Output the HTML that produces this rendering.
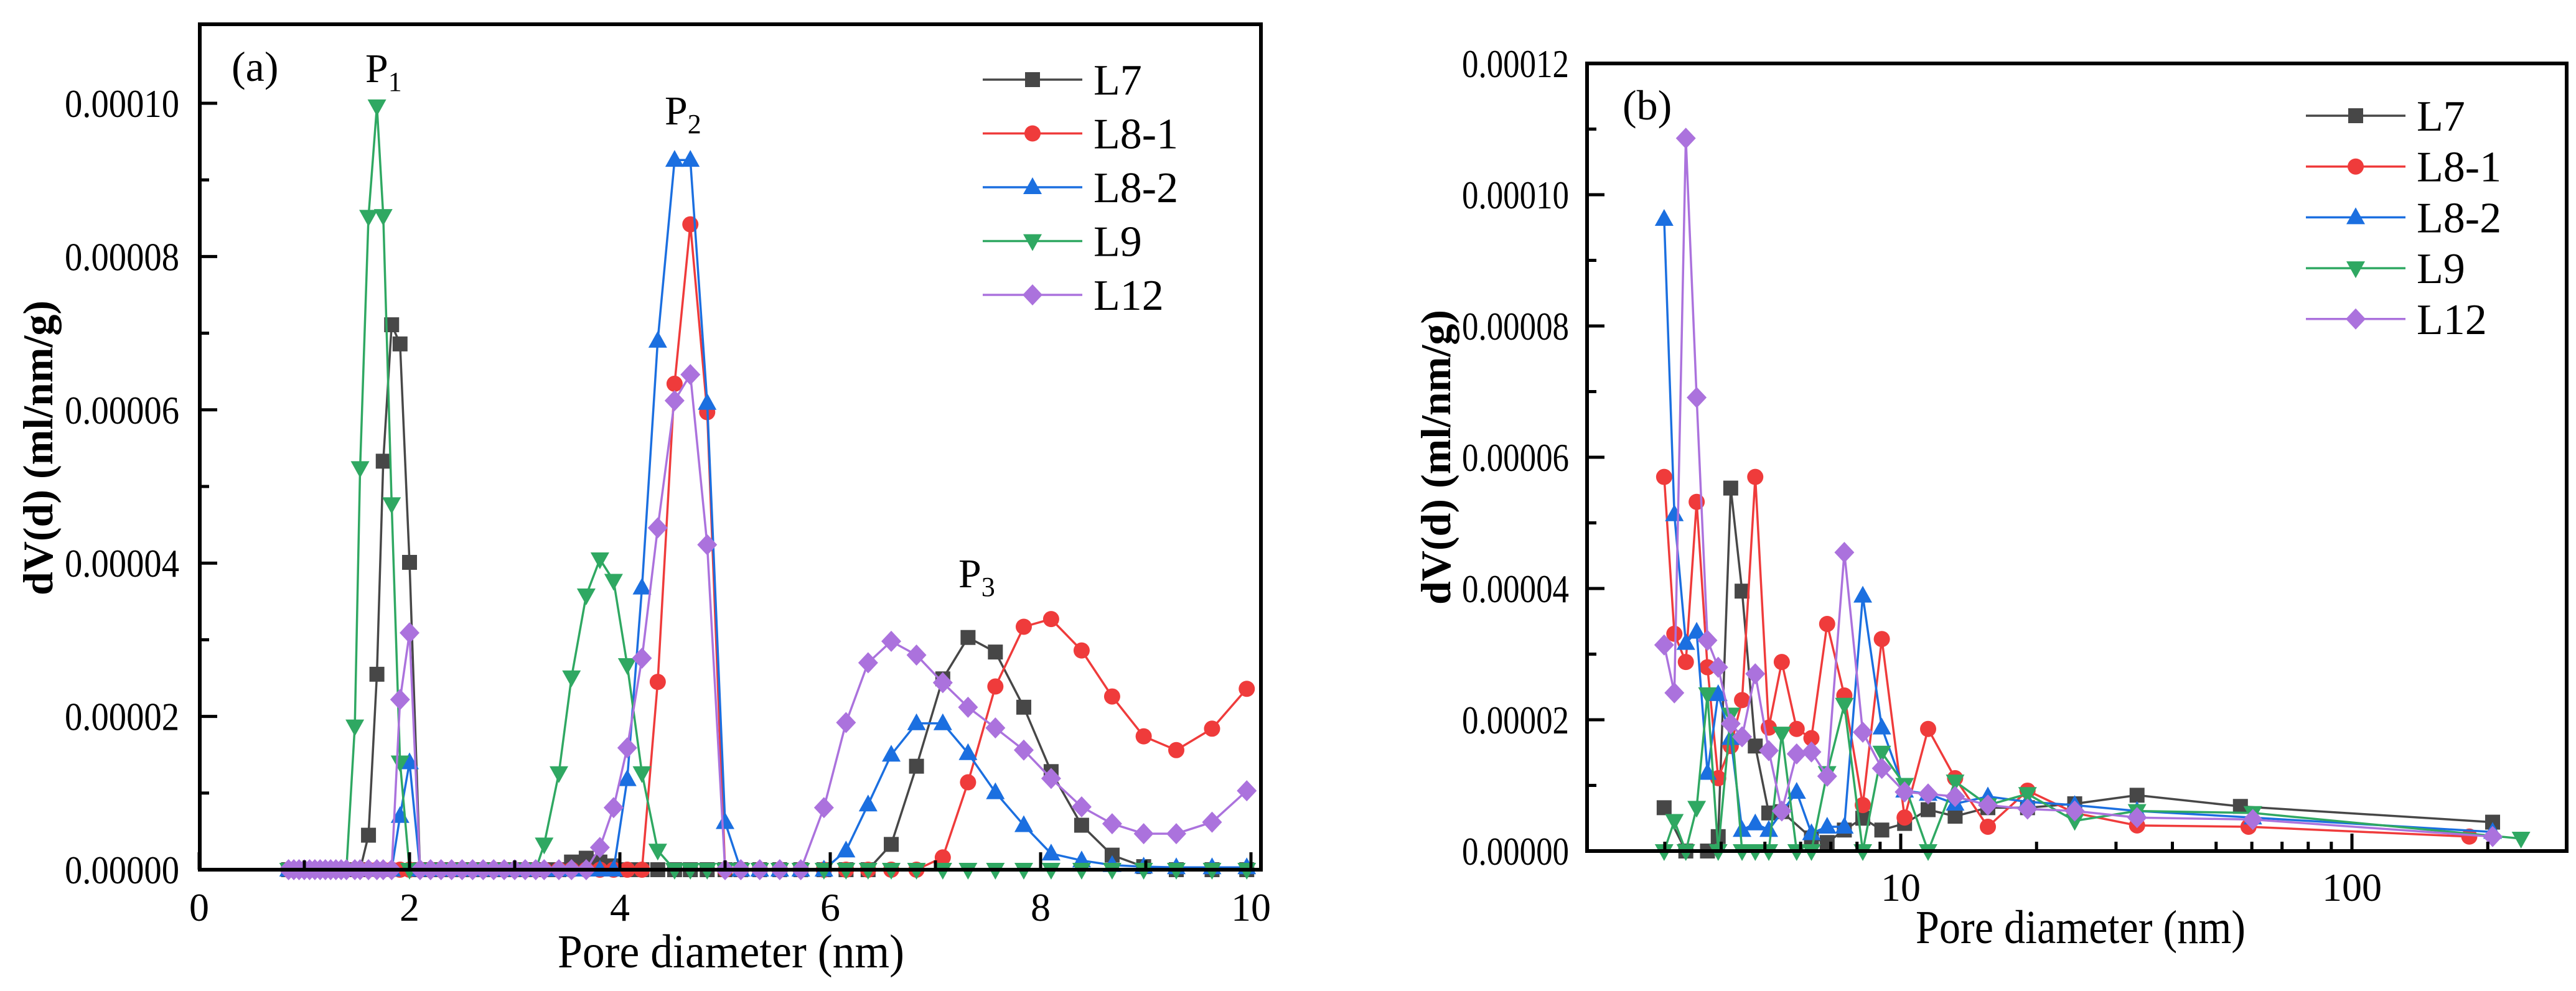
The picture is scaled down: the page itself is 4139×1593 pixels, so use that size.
<!DOCTYPE html>
<html><head><meta charset="utf-8">
<style>
html,body{margin:0;padding:0;background:#fff;}
svg{display:block;}
text{font-family:"Liberation Serif",serif;}
</style></head>
<body>
<svg id="chart" width="4139" height="1593" viewBox="0 0 4139 1593" xmlns="http://www.w3.org/2000/svg" font-family="Liberation Serif, serif">
<rect x="0" y="0" width="4139" height="1593" fill="#fff"/>
<g id="pa"></g>
<g id="pb"></g>
</svg>
<script>
// ---------- Panel (a) data (values in 1e-5 ml/nm/g) ----------
const gridA = [0.85,0.9,0.95,1.0,1.05,1.1,1.15,1.2,1.25,1.3,1.35,1.4,1.48,1.53,1.61,1.69,1.75,1.83,1.91,2.0,2.1,2.2,2.3,2.4,2.5,2.6,2.7,2.8,2.9,3.0,3.1,3.2,3.28,3.42,3.54,3.68,3.81,3.94,4.07,4.21,4.36,4.52,4.67,4.83,5.0,5.15,5.33,5.52,5.72,5.94,6.15,6.36,6.58,6.82,7.07,7.31,7.57,7.84,8.1,8.39,8.68,8.98,9.29,9.63,9.96];
const aL7  = [0,0,0,0,0,0,0,0,0,0,0,0,0,0,0.45,2.55,5.33,7.11,6.86,4.01,0,0,0,0,0,0,0,0,0,0,0,0,0,0,0.1,0.15,0.1,0.05,0,0,0,0,0,0,0,0,0,0,0,0,0,0,0.33,1.35,2.49,3.03,2.84,2.12,1.28,0.58,0.19,0.04,0,0,0];
const aL81 = [0,0,0,0,0,0,0,0,0,0,0,0,0,0,0,0,0,0,0,0,0,0,0,0,0,0,0,0,0,0,0,0,0,0,0,0,0,0,0,0,2.45,6.34,8.42,5.97,0,0,0,0,0,0,0,0,0,0,0.16,1.14,2.39,3.17,3.27,2.86,2.26,1.74,1.56,1.84,2.36];
const aL82 = [0,0,0,0,0,0,0,0,0,0,0,0,0,0,0,0,0,0,0.7,1.4,0,0,0,0,0,0,0,0,0,0,0,0,0,0,0,0,0,0,1.18,3.68,6.9,9.26,9.26,6.09,0.62,0,0,0,0,0,0.25,0.85,1.5,1.91,1.91,1.52,1.01,0.58,0.21,0.12,0.06,0.04,0.03,0.03,0.03];
const aL9  = [0,0,0,0,0,0,0,0,0,0,0,0,1.87,5.24,8.52,9.96,8.53,4.77,1.4,0,0,0,0,0,0,0,0,0,0,0,0,0,0.33,1.26,2.51,3.58,4.05,3.77,2.67,1.26,0.25,0,0,0,0,0,0,0,0,0,0,0,0,0,0,0,0,0,0,0,0,0,0,0,0];
const aL12 = [0,0,0,0,0,0,0,0,0,0,0,0,0,0,0,0,0,0,2.22,3.09,0,0,0,0,0,0,0,0,0,0,0,0,0,0,0,0,0.29,0.81,1.59,2.76,4.46,6.12,6.46,4.24,0,0,0,0,0,0.81,1.92,2.7,2.98,2.8,2.44,2.12,1.85,1.56,1.19,0.82,0.6,0.47,0.47,0.62,1.03];
const aXTicks = [0,2,4,6,8,10];
const aYTicks = [0,2,4,6,8,10];
const aYLabels = ["0.00000","0.00002","0.00004","0.00006","0.00008","0.00010"];

// ---------- Panel (b) data ----------
const bL7x  = [2.99,3.34,3.73,3.94,4.2,4.45,4.76,5.1,5.45,6.34,6.87,7.5,8.24,9.08,10.2,11.5,13.2,15.6,19.1,24.3,33.4,56.6,205];
const bL7y  = [0.66,0,0,0.22,5.53,3.96,1.6,0.58,0.6,0.2,0.13,0.32,0.5,0.32,0.42,0.63,0.53,0.66,0.66,0.72,0.85,0.68,0.44];
const bL81x = [2.99,3.15,3.34,3.53,3.73,3.94,4.2,4.45,4.76,5.1,5.45,5.88,6.34,6.87,7.5,8.24,9.08,10.2,11.5,13.2,15.6,19.1,24.3,33.4,59,182];
const bL81y = [5.7,3.31,2.88,5.32,2.8,1.11,1.6,2.3,5.7,1.88,2.88,1.86,1.72,3.46,2.37,0.7,3.23,0.51,1.86,1.11,0.37,0.92,0.58,0.39,0.37,0.22];
const bL82x = [2.99,3.15,3.34,3.53,3.73,3.94,4.2,4.45,4.76,5.1,5.88,6.34,6.87,7.5,8.24,9.08,10.2,11.5,13.2,15.6,19.1,24.3,33.4,60.3,205];
const bL82y = [9.63,5.13,3.17,3.34,1.19,2.39,1.72,0.32,0.42,0.32,0.9,0.27,0.37,0.37,3.89,1.88,0.92,0.87,0.72,0.83,0.75,0.7,0.61,0.51,0.29];
const bL9x  = [2.99,3.15,3.34,3.53,3.73,3.94,4.2,4.45,4.76,5.1,5.45,5.88,6.34,6.87,7.5,8.24,9.08,10.2,11.5,13.2,15.6,19.1,24.3,33.4,60.3,237];
const bL9y  = [0,0.46,0,0.66,2.39,0,2.08,0,0,0,1.79,0,0,1.19,2.23,0,1.5,1.01,0,1.06,0.7,0.87,0.46,0.61,0.58,0.19];
const bL12x = [2.99,3.15,3.34,3.53,3.73,3.94,4.2,4.45,4.76,5.1,5.45,5.88,6.34,6.87,7.5,8.24,9.08,10.2,11.5,13.2,15.6,19.1,24.3,33.4,60.3,205];
const bL12y = [3.14,2.41,10.86,6.91,3.21,2.8,1.94,1.74,2.7,1.53,0.61,1.48,1.51,1.14,4.55,1.81,1.26,0.9,0.87,0.83,0.7,0.64,0.61,0.51,0.48,0.22];
const bYTicks = [0,2,4,6,8,10,12];
const bYLabels = ["0.00000","0.00002","0.00004","0.00006","0.00008","0.00010","0.00012"];
const bXTicks = [10,100];

const seriesNames = ["L7","L8-1","L8-2","L9","L12"];
const colors = ["#474747","#ef3b3b","#1b6fe0","#2fa862","#ab72dd"];
const shapes = ["square","circle","up","down","diamond"];

const NS = "http://www.w3.org/2000/svg";
function mk(parent, tag, attrs, text){
  const e = document.createElementNS(NS, tag);
  for (const k in attrs) e.setAttribute(k, attrs[k]);
  if (tag === "text") e.setAttribute("font-family", "Liberation Serif, serif");
  if (text !== undefined) e.textContent = text;
  parent.appendChild(e);
  return e;
}
function marker(g, shape, x, y, col){
  let e;
  if (shape==="square") e = mk(g,"rect",{x:x-12,y:y-12,width:24,height:24,fill:col});
  else if (shape==="circle") e = mk(g,"circle",{cx:x,cy:y,r:13,fill:col});
  else if (shape==="up") e = mk(g,"polygon",{points:`${x},${y-16} ${x-15},${y+11} ${x+15},${y+11}`,fill:col});
  else if (shape==="down") e = mk(g,"polygon",{points:`${x},${y+16} ${x-15},${y-11} ${x+15},${y-11}`,fill:col});
  else e = mk(g,"polygon",{points:`${x},${y-17} ${x+16},${y} ${x},${y+17} ${x-16},${y}`,fill:col});
  return e;
}
function drawSeries(g, xs, ys, sx, sy, i){
  const sg = mk(g,"g",{});
  
  
  const pts = xs.map((x,k)=>`${sx(x).toFixed(1)},${sy(ys[k]).toFixed(1)}`).join(" ");
  mk(sg,"polyline",{points:pts,fill:"none",stroke:colors[i],"stroke-width":3.5,"stroke-linejoin":"round"});
  xs.forEach((x,k)=>{
    const m = marker(sg, shapes[i], sx(x), sy(ys[k]), colors[i]);
    
    
  });
}
function legend(g, x0, y0, dy){
  seriesNames.forEach((n,i)=>{
    const lg = mk(g,"g",{});
    
    
    const y = y0 + i*dy;
    mk(lg,"line",{x1:x0,y1:y,x2:x0+160,y2:y,stroke:colors[i],"stroke-width":3.5});
    marker(lg, shapes[i], x0+80, y, colors[i]);
    mk(lg,"text",{x:x0+178,y:y+24,"font-size":70,fill:"#000"},n);
  });
}

// ---------- Panel (a) ----------
(function(){
  const g = document.getElementById("pa");
  const L=321,R=2026,T=39,B=1398;
  const sx = d => 320 + d*169;
  const sy = v => B - v*246.4/2;
  seriesNames.forEach((n,i)=>{
    const ys=[aL7,aL81,aL82,aL9,aL12][i];
    drawSeries(g, gridA, ys, sx, sy, i);
  });
  const ax = mk(g,"g",{});
  
  
  mk(ax,"rect",{x:L,y:T,width:R-L,height:B-T,fill:"none",stroke:"#000","stroke-width":6});
  aYTicks.forEach((t,k)=>{
    const y=sy(t);
    mk(ax,"line",{x1:L,y1:y,x2:L+28,y2:y,stroke:"#000","stroke-width":5});
    mk(ax,"text",{x:104,y:y+22,"font-size":64,textLength:184,lengthAdjust:"spacingAndGlyphs"},aYLabels[k]);
    if(k<aYTicks.length-1){const ym=sy(t+1);mk(ax,"line",{x1:L,y1:ym,x2:L+15,y2:ym,stroke:"#000","stroke-width":5});}
  });
  aXTicks.forEach((t,k)=>{
    const x=sx(t);
    mk(ax,"line",{x1:x,y1:B,x2:x,y2:B-28,stroke:"#000","stroke-width":5});
    mk(ax,"text",{x:x,y:1480,"font-size":64,"text-anchor":"middle"},String(t));
    if(k<aXTicks.length-1){const xm=sx(t+1);mk(ax,"line",{x1:xm,y1:B,x2:xm,y2:B-15,stroke:"#000","stroke-width":5});}
  });
  const xt = mk(g,"text",{x:896,y:1555,"font-size":76,textLength:557,lengthAdjust:"spacingAndGlyphs"},"Pore diameter (nm)");
   
  const yt = mk(g,"text",{x:0,y:0,"font-size":68,"font-weight":"bold","text-anchor":"middle",transform:"translate(84,720) rotate(-90)"},"dV(d) (ml/nm/g)");
   
  const pl = mk(g,"text",{x:372,y:130,"font-size":68},"(a)");
   
  const p1 = mk(g,"text",{x:587,y:132,"font-size":66},"P"); mk(p1,"tspan",{"font-size":44,dy:14},"1");
   
  const p2 = mk(g,"text",{x:1068,y:200,"font-size":66},"P"); mk(p2,"tspan",{"font-size":44,dy:14},"2");
   
  const p3 = mk(g,"text",{x:1540,y:944,"font-size":66},"P"); mk(p3,"tspan",{"font-size":44,dy:14},"3");
   
  const lg = mk(g,"g",{});
   
  legend(lg, 1579, 128, 86.5);
})();

// ---------- Panel (b) ----------
(function(){
  const g = document.getElementById("pb");
  const L=2550,R=4124,T=102,B=1368;
  const sx = d => 3054 + (Math.log10(d)-1)*725;
  const sy = v => B - v*(B-T)/12;
  const xs=[bL7x,bL81x,bL82x,bL9x,bL12x], ys=[bL7y,bL81y,bL82y,bL9y,bL12y];
  seriesNames.forEach((n,i)=>drawSeries(g, xs[i], ys[i], sx, sy, i));
  const ax = mk(g,"g",{});
  
  
  mk(ax,"rect",{x:L,y:T,width:R-L,height:B-T,fill:"none",stroke:"#000","stroke-width":6});
  bYTicks.forEach((t,k)=>{
    const y=sy(t);
    mk(ax,"line",{x1:L,y1:y,x2:L+28,y2:y,stroke:"#000","stroke-width":5});
    mk(ax,"text",{x:2349,y:y+22,"font-size":64,textLength:172,lengthAdjust:"spacingAndGlyphs"},bYLabels[k]);
    if(k<bYTicks.length-1){const ym=sy(t+1);mk(ax,"line",{x1:L,y1:ym,x2:L+15,y2:ym,stroke:"#000","stroke-width":5});}
  });
  bXTicks.forEach(t=>{
    const x=sx(t);
    mk(ax,"line",{x1:x,y1:B,x2:x,y2:B-28,stroke:"#000","stroke-width":5});
    mk(ax,"text",{x:x,y:1448,"font-size":64,"text-anchor":"middle"},String(t));
  });
  [1,10,100].forEach(dec=>{
    for(let m=2;m<=9;m++){
      const x=sx(dec*m);
      if(x>L+3 && x<R-3) mk(ax,"line",{x1:x,y1:B,x2:x,y2:B-15,stroke:"#000","stroke-width":5});
    }
  });
  const xt = mk(g,"text",{x:3078,y:1516,"font-size":76,textLength:530,lengthAdjust:"spacingAndGlyphs"},"Pore diameter (nm)");
   
  const yt = mk(g,"text",{x:0,y:0,"font-size":68,"font-weight":"bold","text-anchor":"middle",transform:"translate(2330,735) rotate(-90)"},"dV(d) (ml/nm/g)");
   
  const pl = mk(g,"text",{x:2607,y:192,"font-size":68},"(b)");
   
  const lg = mk(g,"g",{});
   
  legend(lg, 3705, 186, 81.7);
})();
</script>
</body></html>
